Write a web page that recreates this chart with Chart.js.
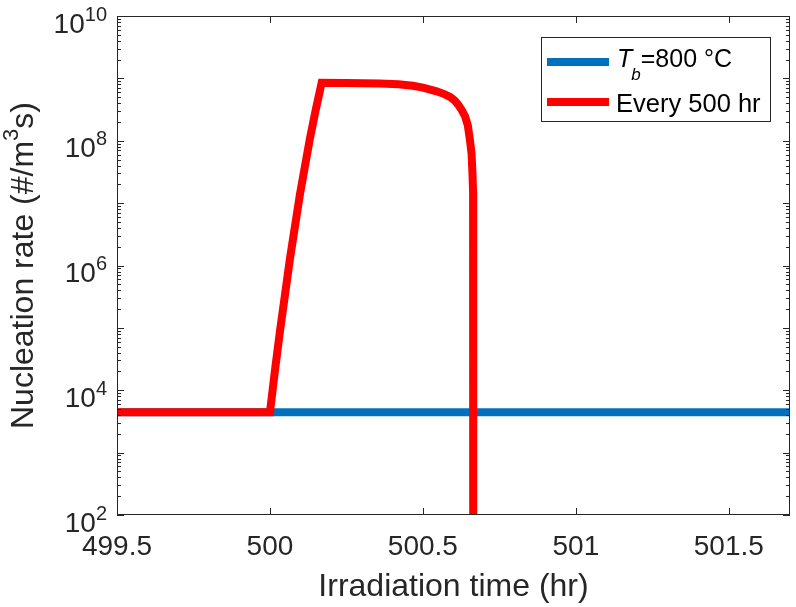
<!DOCTYPE html>
<html>
<head>
<meta charset="utf-8">
<script src="https://cdn.jsdelivr.net/npm/chart.js@4.4.1/dist/chart.umd.min.js"></script>
<style>
  html, body { margin: 0; padding: 0; background: #fff; }
  #wrap { width: 796px; height: 607px; }
</style>
</head>
<body>
<div id="wrap"><canvas id="chart" width="796" height="607"></canvas></div>
<script>
// DATOS
const baseTime = [499.5, 501.7];
const baseRate = [4.44e3, 4.44e3];

const pulseTime = [499.5, 500.0, 500.0163, 500.0327, 500.0654, 500.098, 500.1307, 500.150, 500.169,
  500.25, 500.36, 500.42, 500.467, 500.5, 500.545, 500.57, 500.59, 500.605, 500.615, 500.627,
  500.638, 500.647, 500.654, 500.659, 500.662, 500.664, 500.6645];
const pulseRate = [4.44e3, 4.44e3, 2.07e4, 8.85e4, 1.29e6, 1.38e7, 1.09e8, 3.2e8, 8.5e8,
  8.4e8, 8.3e8, 8.05e8, 7.6e8, 7.1e8, 6.2e8, 5.6e8, 5.0e8, 4.35e8, 3.8e8, 3.1e8,
  2.45e8, 1.75e8, 1.0e8, 6.3e7, 3.0e7, 1.5e7, 1];

const seriesNames = ['T_b=800 °C', 'Every 500 hr'];
const xTicks = [499.5, 500, 500.5, 501, 501.5];
const yExponents = [2, 4, 6, 8, 10];

const xTitle = 'Irradiation time (hr)';

const AXIS = '#262626';
const FONT = '"Liberation Sans", Arial, Helvetica, sans-serif';

const toPoints = (xs, ys) => xs.map((x, i) => ({ x: x, y: ys[i] }));

// texto con superindice
function drawSup(ctx, base, sup, x, y, size, supSize, rise) {
  ctx.font = size + 'px ' + FONT;
  ctx.fillText(base, x, y);
  const w = ctx.measureText(base).width;
  ctx.font = supSize + 'px ' + FONT;
  ctx.fillText(sup, x + w, y - rise);
  return w + ctx.measureText(sup).width;
}

const matlabAxes = {
  id: 'matlabAxes',
  afterDraw(chart) {
    const ctx = chart.ctx;
    const a = chart.chartArea;
    const xs = chart.scales.x;
    const ys = chart.scales.y;
    ctx.save();
    ctx.strokeStyle = AXIS;
    ctx.fillStyle = AXIS;
    ctx.lineWidth = 1;

    // caja
    ctx.strokeRect(Math.round(a.left) + 0.5, Math.round(a.top) + 0.5,
      Math.round(a.right - a.left) - 1, Math.round(a.bottom - a.top) - 1);

    // ticks x
    ctx.beginPath();
    xTicks.forEach(v => {
      const px = Math.round(xs.getPixelForValue(v)) + 0.5;
      ctx.moveTo(px, a.bottom); ctx.lineTo(px, a.bottom - 7);
      ctx.moveTo(px, a.top); ctx.lineTo(px, a.top + 7);
    });
    // ticks y (mayores y menores)
    for (let e = 2; e < 10; e++) {
      for (let k = 1; k <= 9; k++) {
        const py = Math.round(ys.getPixelForValue(k * Math.pow(10, e))) + 0.5;
        const len = k === 1 ? 7 : 4;
        ctx.moveTo(a.left, py); ctx.lineTo(a.left + len, py);
        ctx.moveTo(a.right, py); ctx.lineTo(a.right - len, py);
      }
    }
    ctx.stroke();

    // etiquetas x
    ctx.font = '28px ' + FONT;
    ctx.textAlign = 'center';
    ctx.textBaseline = 'alphabetic';
    xTicks.forEach(v => {
      ctx.fillText(String(v), xs.getPixelForValue(v), 555);
    });

    // etiquetas y
    ctx.textAlign = 'left';
    yExponents.forEach(e => {
      const py = ys.getPixelForValue(Math.pow(10, e));
      ctx.font = '28px ' + FONT;
      const wb = ctx.measureText('10').width;
      ctx.font = '20px ' + FONT;
      const ws = ctx.measureText(String(e)).width;
      drawSup(ctx, '10', String(e), 107 - wb - ws, py + 16.5, 28, 20, 12);
    });

    // titulo x
    ctx.textAlign = 'center';
    ctx.font = '32px ' + FONT;
    ctx.fillText(xTitle, (a.left + a.right) / 2, 596);

    // titulo y
    ctx.save();
    ctx.translate(33, (a.top + a.bottom) / 2);
    ctx.rotate(-Math.PI / 2);
    ctx.textAlign = 'left';
    ctx.font = '32px ' + FONT;
    const p1 = 'Nucleation rate (#/m', p2 = '3', p3 = 's)';
    const w1 = ctx.measureText(p1).width, w3 = ctx.measureText(p3).width;
    ctx.font = '22px ' + FONT;
    const w2 = ctx.measureText(p2).width;
    let tx = -(w1 + w2 + w3) / 2;
    ctx.font = '32px ' + FONT;
    ctx.fillText(p1, tx, 0);
    tx += w1;
    ctx.font = '22px ' + FONT;
    ctx.fillText(p2, tx, -15);
    tx += w2;
    ctx.font = '32px ' + FONT;
    ctx.fillText(p3, tx, 0);
    ctx.restore();

    // leyenda
    ctx.fillStyle = '#fff';
    ctx.fillRect(541, 37, 229, 84);
    ctx.strokeStyle = AXIS;
    ctx.strokeRect(541.5, 37.5, 229, 84);
    const ds = chart.data.datasets;
    const rows = [62, 102];
    ds.forEach((d, i) => {
      ctx.strokeStyle = d.borderColor;
      ctx.lineWidth = 8;
      ctx.lineCap = 'butt';
      ctx.beginPath();
      ctx.moveTo(547, rows[i]);
      ctx.lineTo(609, rows[i]);
      ctx.stroke();
    });
    ctx.fillStyle = '#000';
    ctx.textAlign = 'left';
    // T_b=800 °C
    ctx.font = 'italic 25px ' + FONT;
    ctx.fillText('T', 617, 67);
    let lx = 617 + ctx.measureText('T').width - 1;
    ctx.font = 'italic 17px ' + FONT;
    ctx.fillText('b', lx, 80);
    lx += ctx.measureText('b').width;
    ctx.font = '25px ' + FONT;
    ctx.fillText('=800 °C', lx, 67);
    ctx.font = '25.5px ' + FONT;
    ctx.fillText(seriesNames[1], 616, 112);

    ctx.restore();
  }
};

const ctx = document.getElementById('chart').getContext('2d');
const chart = new Chart(ctx, {
  type: 'line',
  data: {
    datasets: [
      {
        label: seriesNames[0],
        data: toPoints(baseTime, baseRate),
        borderColor: '#0072BD',
        borderWidth: 8,
        pointRadius: 0,
        tension: 0,
        clip: 0,
        order: 1
      },
      {
        label: seriesNames[1],
        data: toPoints(pulseTime, pulseRate),
        borderColor: '#FF0000',
        borderWidth: 8,
        pointRadius: 0,
        tension: 0,
        clip: 0,
        order: 0
      }
    ]
  },
  options: {
    responsive: false,
    animation: false,
    layout: { padding: { left: 117, top: 16, right: 6, bottom: 92 } },
    plugins: { legend: { display: false }, tooltip: { enabled: false } },
    scales: {
      x: { type: 'linear', min: 499.5, max: 501.7, display: false },
      y: { type: 'logarithmic', min: 1e2, max: 1e10, display: false }
    }
  },
  plugins: [matlabAxes]
});
</script>
</body>
</html>
